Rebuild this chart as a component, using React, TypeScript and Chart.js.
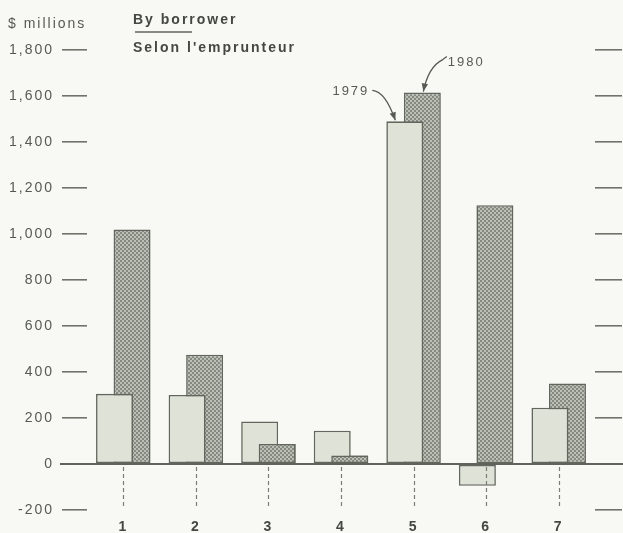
import React, { useEffect, useRef } from "react";
import { Chart, registerables } from "chart.js";

Chart.register(...registerables);

// ---- data ----
const categories = ["1", "2", "3", "4", "5", "6", "7"];
const seriesLabels = ["1979", "1980"];
const values1979 = [305, 300, 185, 145, 1490, -95, 245];
const values1980 = [1020, 475, 87, 37, 1615, 1125, 350];
const yTickValues = [-200, 0, 200, 400, 600, 800, 1000, 1200, 1400, 1600, 1800];
const unitLabel = "$ millions";
const titleEn = "By borrower";
const titleFr = "Selon l'emprunteur";
const annotatedIndex = 4;

const FONT = "'Liberation Sans', Arial, Helvetica, sans-serif";
const TEXT = "#575a54";
const TEXT_BOLD = "#454842";
const LINE = "#6f736a";
const EDGE = "#62665d";

function makePattern(): CanvasPattern | string {
  const c = document.createElement("canvas");
  c.width = 4;
  c.height = 4;
  const g = c.getContext("2d");
  if (!g) return "#a0a39c";
  g.fillStyle = "#bcbfb7";
  g.fillRect(0, 0, 4, 4);
  g.fillStyle = "#858980";
  g.fillRect(0, 0, 2, 2);
  g.fillRect(2, 2, 2, 2);
  const p = g.createPattern(c, "repeat");
  return p || "#a0a39c";
}

function arrow(ctx: CanvasRenderingContext2D, pts: number[][], ctrl: number[], tip: number[]) {
  ctx.beginPath();
  ctx.moveTo(pts[0][0], pts[0][1]);
  for (let i = 1; i < pts.length; i++) ctx.lineTo(pts[i][0], pts[i][1]);
  ctx.quadraticCurveTo(ctrl[0], ctrl[1], tip[0], tip[1]);
  ctx.stroke();
  const ang = Math.atan2(tip[1] - ctrl[1], tip[0] - ctrl[0]);
  const L = 8;
  const W = 3.2;
  const bx = tip[0] - L * Math.cos(ang);
  const by = tip[1] - L * Math.sin(ang);
  ctx.beginPath();
  ctx.moveTo(tip[0], tip[1]);
  ctx.lineTo(bx + W * Math.sin(ang), by - W * Math.cos(ang));
  ctx.lineTo(bx - W * Math.sin(ang), by + W * Math.cos(ang));
  ctx.closePath();
  ctx.fill();
}

const decorPlugin = {
  id: "decor",
  beforeDraw(chart: any) {
    const ctx = chart.ctx;
    ctx.save();
    ctx.fillStyle = "#f8f8f4";
    ctx.fillRect(0, 0, chart.width, chart.height);
    ctx.restore();
    (ctx as any).letterSpacing = "2px";
  },
  afterDatasetsDraw(chart: any) {
    const ctx = chart.ctx as CanvasRenderingContext2D;
    const m1 = chart.getDatasetMeta(1);
    // shorter 1980 bars sit in front of their 1979 partner
    values1980.forEach((v, i) => {
      if (v >= 0 && values1979[i] >= 0 && v < values1979[i]) m1.data[i].draw(ctx);
    });

    const xs = chart.scales.x;
    const ys = chart.scales.y;
    const y0 = ys.getPixelForValue(0);
    const area = chart.chartArea;

    ctx.save();
    // dashed drop lines below zero
    ctx.strokeStyle = "#7a7e75";
    ctx.lineWidth = 1.2;
    ctx.setLineDash([4, 3]);
    categories.forEach((_, i) => {
      const x = Math.round(xs.getPixelForValue(i)) + 0.5;
      ctx.beginPath();
      ctx.moveTo(x, y0 + 3);
      ctx.lineTo(x, area.bottom - 1);
      ctx.stroke();
    });
    ctx.setLineDash([]);
    // zero line
    ctx.strokeStyle = "#5f635b";
    ctx.lineWidth = 2;
    ctx.beginPath();
    ctx.moveTo(60, y0);
    ctx.lineTo(chart.width, y0);
    ctx.stroke();

    // annotations for the year series
    const m0 = chart.getDatasetMeta(0);
    const b0 = m0.data[annotatedIndex];
    const b1 = m1.data[annotatedIndex];
    const l0 = b0.x - b0.width / 2;
    const t0 = b0.y;
    const r1 = b1.x + b1.width / 2;
    const t1 = b1.y;
    ctx.fillStyle = TEXT;
    ctx.strokeStyle = "#555852";
    ctx.lineWidth = 1.3;
    ctx.font = `13px ${FONT}`;
    ctx.textBaseline = "middle";
    ctx.textAlign = "right";
    ctx.fillText(seriesLabels[0], l0 - 17, t0 - 30);
    ctx.textAlign = "left";
    ctx.fillText(seriesLabels[1], r1 + 7, t1 - 30);
    arrow(ctx, [[l0 - 14, t0 - 31]], [l0 - 1, t0 - 30], [l0 + 9, t0 - 1]);
    arrow(ctx, [[r1 + 6, t1 - 36], [r1 + 2, t1 - 33]], [b1.x + 6, t1 - 26], [b1.x + 1, t1 - 1]);

    // header texts
    ctx.textAlign = "left";
    ctx.font = `14px ${FONT}`;
    ctx.fillStyle = TEXT;
    ctx.fillText(unitLabel, 8, 24);
    ctx.font = `bold 14px ${FONT}`;
    ctx.fillStyle = TEXT_BOLD;
    ctx.fillText(titleEn, 133, 20);
    ctx.fillText(titleFr, 133, 48);
    ctx.strokeStyle = "#62665d";
    ctx.lineWidth = 1.5;
    ctx.beginPath();
    ctx.moveTo(135, 32);
    ctx.lineTo(192, 32);
    ctx.stroke();
    ctx.restore();
  },
};

const setTicks = (s: any) => {
  s.ticks = yTickValues.map((v) => ({ value: v }));
};

export default function App() {
  const ref = useRef<HTMLCanvasElement | null>(null);

  useEffect(() => {
    if (!ref.current) return;
    const pattern = makePattern();
    const chart = new Chart(ref.current, {
      type: "bar",
      data: {
        labels: categories,
        datasets: [
          {
            label: seriesLabels[0],
            data: values1979,
            backgroundColor: "#dee2d7",
            borderColor: EDGE,
            borderWidth: 1.6,
            borderSkipped: false,
            yAxisID: "y",
          },
          {
            label: seriesLabels[1],
            data: values1980,
            backgroundColor: pattern as any,
            borderColor: EDGE,
            borderWidth: 1.6,
            borderSkipped: false,
            yAxisID: "y",
          },
        ],
      },
      options: {
        responsive: false,
        animation: false,
        barPercentage: 2.11,
        categoryPercentage: 0.483,
        layout: { padding: { top: 50, left: 0, right: 0, bottom: 0 } },
        plugins: {
          legend: { display: false },
          tooltip: { enabled: false },
          title: { display: false },
        },
        scales: {
          x: {
            type: "category",
            offset: true,
            grid: { display: false, drawTicks: false },
            border: { display: false },
            ticks: {
              padding: 9,
              color: TEXT_BOLD,
              font: { family: FONT, size: 14, weight: "bold" },
            },
            afterFit: (s: any) => {
              s.height = 23;
            },
          },
          y: {
            type: "linear",
            position: "left",
            min: -200,
            max: 1800,
            afterBuildTicks: setTicks,
            afterFit: (s: any) => {
              s.width = 87;
            },
            grid: {
              drawOnChartArea: false,
              drawTicks: true,
              tickLength: 25,
              color: LINE,
              lineWidth: 1.6,
            },
            border: { display: false },
            ticks: {
              padding: 8,
              color: TEXT,
              font: { family: FONT, size: 14 },
              callback: (v: any) => Number(v).toLocaleString("en-US"),
            },
          },
          y2: {
            type: "linear",
            position: "right",
            min: -200,
            max: 1800,
            afterBuildTicks: setTicks,
            afterFit: (s: any) => {
              s.width = 28;
            },
            grid: {
              drawOnChartArea: false,
              drawTicks: true,
              tickLength: 27,
              color: LINE,
              lineWidth: 1.6,
            },
            border: { display: false },
            ticks: { display: false },
          },
        },
      } as any,
      plugins: [decorPlugin as any],
    });
    return () => chart.destroy();
  }, []);

  return (
    <div style={{ position: "fixed", left: 0, top: 0, width: 623, height: 533 }}>
      <canvas ref={ref} width={623} height={533} style={{ display: "block" }} />
    </div>
  );
}
